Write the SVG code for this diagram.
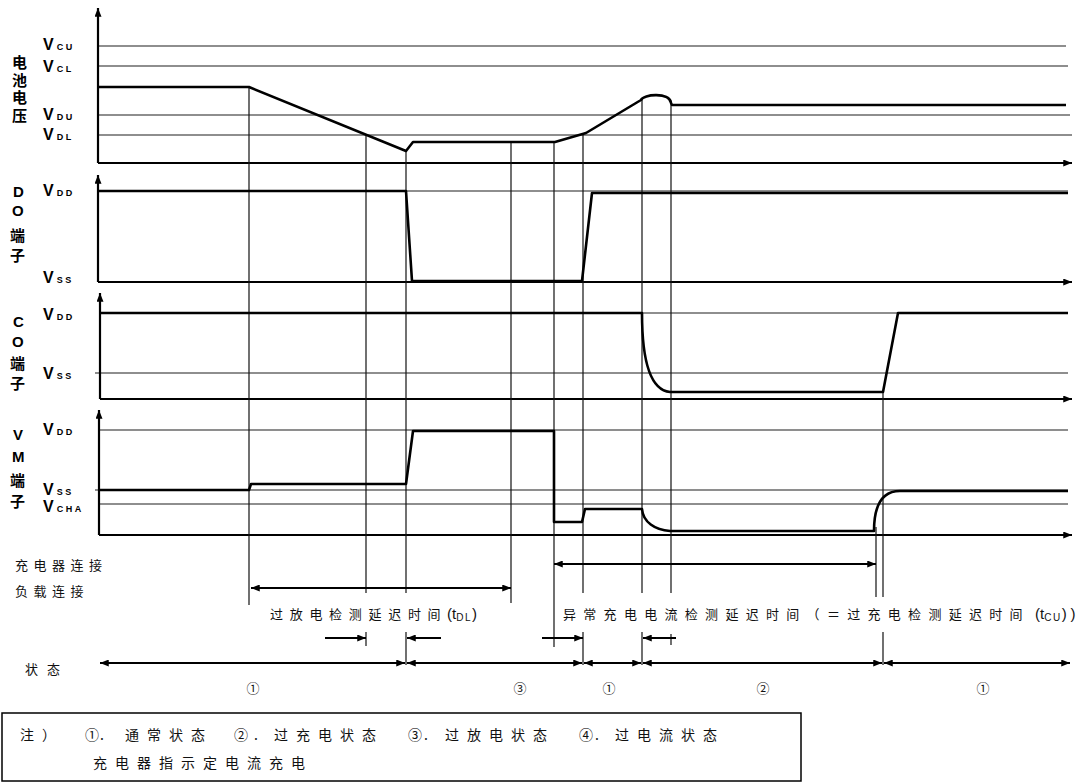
<svg xmlns="http://www.w3.org/2000/svg" width="1092" height="783" viewBox="0 0 1092 783">
<style>
.bg{fill:#fff}
.axis{stroke:#000;stroke-width:2.2;fill:none}
.ref{stroke:#1e1e1e;stroke-width:1.2;fill:none}
.vl{stroke:#111;stroke-width:1.2;fill:none}
.sig{stroke:#000;stroke-width:2.6;fill:none;stroke-linejoin:round}
.arr{stroke:#000;stroke-width:2;fill:none}
.lbl{font-family:"Liberation Sans","Noto Sans CJK SC",sans-serif;font-weight:700;font-size:15px;fill:#000}
.v{font-family:"Liberation Sans",Arial,sans-serif;font-weight:700;font-size:16px;fill:#000}
.sub{font-size:9px;letter-spacing:2.5px}
.t{font-family:"Noto Sans CJK SC","Noto Sans",sans-serif;font-size:13px;fill:#111;letter-spacing:7px}
.tl{font-family:"Liberation Sans",Arial,sans-serif;font-size:15px;fill:#111;letter-spacing:0}
.ts{font-family:"Liberation Sans",Arial,sans-serif;font-size:10px;fill:#111;letter-spacing:1.5px}
.n{font-family:"Noto Sans CJK SC","Noto Sans",sans-serif;font-size:13px;fill:#111;text-anchor:middle}
.note{font-family:"Noto Sans CJK SC","Noto Sans",sans-serif;font-size:14px;fill:#111;letter-spacing:8px}
.note0{font-family:"Noto Sans CJK SC","Noto Sans",sans-serif;font-size:14px;fill:#111}
</style>
<defs>
<marker id="ah" viewBox="0 0 10 8" refX="10" refY="4" markerWidth="9" markerHeight="7" markerUnits="userSpaceOnUse" orient="auto-start-reverse">
<path d="M0,0 L10,4 L0,8 z" fill="#000"/>
</marker>
</defs>
<rect class="bg" x="0" y="0" width="1092" height="783"/>

<g id="panel-battery">
<line class="ref" x1="98" y1="46" x2="1066" y2="46"/>
<line class="ref" x1="98" y1="66" x2="1068" y2="66"/>
<line class="ref" x1="98" y1="115" x2="1070" y2="115"/>
<line class="ref" x1="98" y1="135" x2="1072" y2="135"/>
<line class="axis" x1="98" y1="163" x2="98" y2="8" marker-end="url(#ah)"/>
<line class="axis" x1="98" y1="163" x2="1072" y2="163" marker-end="url(#ah)"/>
<text class="lbl"><tspan x="12" y="68">电</tspan><tspan x="12" y="86">池</tspan><tspan x="12" y="103">电</tspan><tspan x="12" y="121">压</tspan></text>
<text class="v" x="43" y="50">V<tspan class="sub" dx="3">CU</tspan></text>
<text class="v" x="43" y="72">V<tspan class="sub" dx="3">CL</tspan></text>
<text class="v" x="43" y="120">V<tspan class="sub" dx="3">DU</tspan></text>
<text class="v" x="43" y="140">V<tspan class="sub" dx="3">DL</tspan></text>
</g>

<g id="panel-do">
<line class="ref" x1="98" y1="191" x2="1068" y2="191"/>
<line class="axis" x1="98" y1="282" x2="98" y2="175" marker-end="url(#ah)"/>
<line class="axis" x1="98" y1="282" x2="1072" y2="282" marker-end="url(#ah)"/>
<text class="lbl"><tspan x="13" y="197">D</tspan><tspan x="12" y="216">O</tspan><tspan x="10" y="241">端</tspan><tspan x="10" y="261">子</tspan></text>
<text class="v" x="43" y="196">V<tspan class="sub" dx="3">DD</tspan></text>
<text class="v" x="43" y="283">V<tspan class="sub" dx="3">SS</tspan></text>
</g>

<g id="panel-co">
<line class="ref" x1="100" y1="313" x2="1068" y2="313"/>
<line class="ref" x1="95" y1="373" x2="1068" y2="373"/>
<line class="axis" x1="100" y1="399" x2="100" y2="293" marker-end="url(#ah)"/>
<line class="axis" x1="100" y1="399" x2="1072" y2="399" marker-end="url(#ah)"/>
<text class="lbl"><tspan x="13" y="327">C</tspan><tspan x="12" y="347">O</tspan><tspan x="10" y="369">端</tspan><tspan x="10" y="389">子</tspan></text>
<text class="v" x="43" y="320">V<tspan class="sub" dx="3">DD</tspan></text>
<text class="v" x="43" y="379">V<tspan class="sub" dx="3">SS</tspan></text>
</g>

<g id="panel-vm">
<line class="ref" x1="98" y1="430" x2="1068" y2="430"/>
<line class="ref" x1="95" y1="490" x2="1068" y2="490"/>
<line class="ref" x1="98" y1="504" x2="1068" y2="504"/>
<line class="axis" x1="99" y1="535" x2="99" y2="410" marker-end="url(#ah)"/>
<line class="axis" x1="99" y1="535" x2="1072" y2="535" marker-end="url(#ah)"/>
<text class="lbl"><tspan x="13" y="440">V</tspan><tspan x="12" y="462">M</tspan><tspan x="10" y="486">端</tspan><tspan x="10" y="507">子</tspan></text>
<text class="v" x="43" y="435">V<tspan class="sub" dx="3">DD</tspan></text>
<text class="v" x="43" y="495">V<tspan class="sub" dx="3">SS</tspan></text>
<text class="v" x="43" y="512">V<tspan class="sub" dx="3">CHA</tspan></text>
</g>

<g id="verticals">
<line class="vl" x1="249" y1="87" x2="249" y2="605"/>
<line class="vl" x1="366" y1="135" x2="366" y2="593"/>
<line class="vl" x1="366" y1="632" x2="366" y2="646"/>
<line class="vl" x1="406" y1="151" x2="406" y2="593"/>
<line class="vl" x1="406" y1="632" x2="406" y2="665"/>
<line class="vl" x1="511" y1="142" x2="511" y2="603"/>
<line class="vl" x1="554" y1="142" x2="554" y2="647"/>
<line class="vl" x1="583" y1="133" x2="583" y2="593"/>
<line class="vl" x1="583" y1="632" x2="583" y2="665"/>
<line class="vl" x1="642" y1="99" x2="642" y2="593"/>
<line class="vl" x1="642" y1="632" x2="642" y2="665"/>
<line class="vl" x1="671" y1="103" x2="671" y2="593"/>
<line class="vl" x1="671" y1="634" x2="671" y2="645"/>
<line class="vl" x1="876" y1="527" x2="876" y2="597"/>
<line class="vl" x1="883" y1="392" x2="883" y2="597"/>
<line class="vl" x1="883" y1="632" x2="883" y2="665"/>
</g>

<g id="signals">
<path id="sig-battery" class="sig" d="M98,87 L249,87 L406,151 L413,142 L555,142 L586,133 L641,100 C643,94 670,92 671,103 L672,105 L1066,105"/>
<path id="sig-do" class="sig" d="M98,191 L406,191 L412,281 L582,281 L592,193 L1068,193"/>
<path id="sig-co" class="sig" d="M100,313 L642,313 C642,360 650,390 670,392 L883,392 L898,313 L1068,313"/>
<path id="sig-vm" class="sig" d="M98,490 L249,490 L251,484 L406,484 L413,431 L554,431 L554,522 L582,522 L585,509 L642,509 C643,522 655,530 670,531 L874,531 C874,505 882,491 900,491 L1068,491"/>
</g>

<g id="connectors">
<line class="arr" x1="251" y1="588" x2="511" y2="588" marker-start="url(#ah)" marker-end="url(#ah)"/>
<line class="arr" x1="554" y1="564" x2="876" y2="564" marker-start="url(#ah)" marker-end="url(#ah)"/>
<line class="arr" x1="325" y1="638" x2="366" y2="638" marker-end="url(#ah)"/>
<line class="arr" x1="441" y1="638" x2="407" y2="638" marker-end="url(#ah)"/>
<line class="arr" x1="542" y1="638" x2="583" y2="638" marker-end="url(#ah)"/>
<line class="arr" x1="676" y1="638" x2="643" y2="638" marker-end="url(#ah)"/>
<line class="arr" x1="100" y1="663" x2="405" y2="663" marker-start="url(#ah)" marker-end="url(#ah)"/>
<line class="arr" x1="407" y1="663" x2="582" y2="663" marker-start="url(#ah)" marker-end="url(#ah)"/>
<line class="arr" x1="584" y1="663" x2="641" y2="663" marker-start="url(#ah)" marker-end="url(#ah)"/>
<line class="arr" x1="643" y1="663" x2="882" y2="663" marker-start="url(#ah)" marker-end="url(#ah)"/>
<line class="arr" x1="884" y1="663" x2="1070" y2="663" marker-start="url(#ah)" marker-end="url(#ah)"/>
</g>

<g id="labels">
<text class="t" x="15" y="570" style="letter-spacing:5.5px">充电器连接</text>
<text class="t" x="15" y="596" style="letter-spacing:5.5px">负载连接</text>
<text class="t" x="270" y="619" style="letter-spacing:6.7px">过放电检测延迟时间<tspan class="tl" x="447">(t</tspan><tspan class="ts" dy="2">DL</tspan><tspan class="tl" dy="-2">)</tspan></text>
<text class="t" x="563" y="619" style="letter-spacing:7.3px">异常充电电流检测延迟时间（＝过充电检测延迟时间<tspan class="tl" x="1035">(t</tspan><tspan class="ts" dy="2">CU</tspan><tspan class="tl" dy="-2" style="letter-spacing:4px">))</tspan></text>
<text class="t" x="25" y="674" style="letter-spacing:9px">状态</text>
<text class="n" x="253" y="693">①</text>
<text class="n" x="520" y="693">③</text>
<text class="n" x="609" y="693">①</text>
<text class="n" x="763" y="693">②</text>
<text class="n" x="983" y="693">①</text>
</g>

<g id="note">
<rect x="2" y="713" width="799" height="68" fill="none" stroke="#000" stroke-width="1.5"/>
<text class="note" x="20" y="740">注）</text>
<text class="note0" x="85" y="740">①</text><text class="note0" x="100" y="740">.</text>
<text class="note" x="125" y="740">通常状态</text>
<text class="note0" x="234" y="740">②</text><text class="note0" x="254" y="740">.</text>
<text class="note" x="274" y="740">过充电状态</text>
<text class="note0" x="408" y="740">③</text><text class="note0" x="424" y="740">.</text>
<text class="note" x="445" y="740">过放电状态</text>
<text class="note0" x="579" y="740">④</text><text class="note0" x="595" y="740">.</text>
<text class="note" x="615" y="740">过电流状态</text>
<text class="note" x="93" y="768">充电器指示定电流充电</text>
</g>
</svg>
